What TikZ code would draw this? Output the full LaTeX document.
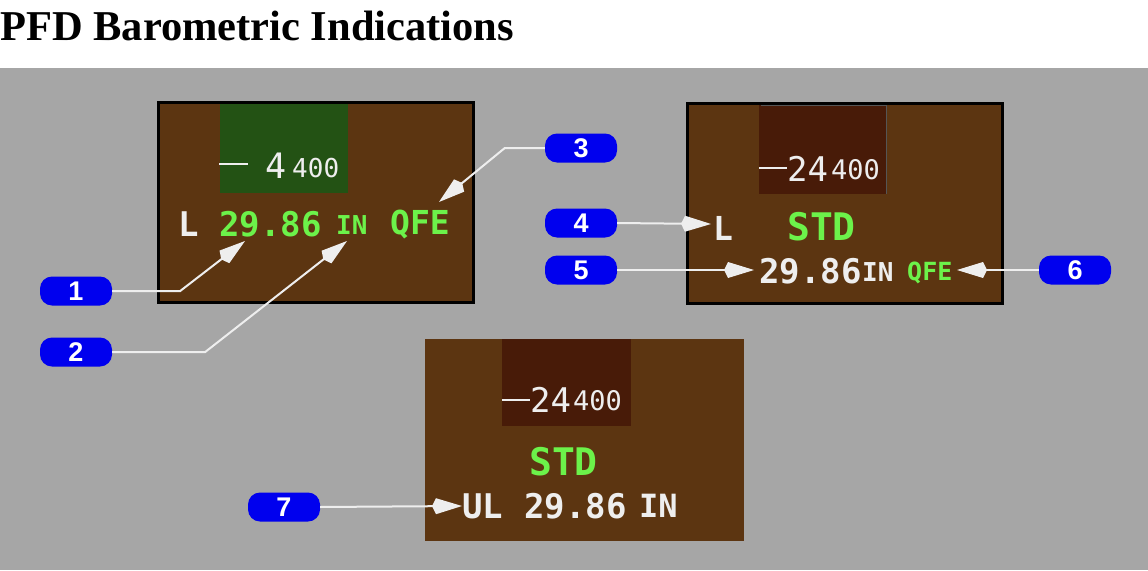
\documentclass[tikz,border=0pt]{standalone}
\usepackage{fontspec}
\setmainfont{Liberation Serif}
\newfontfamily\pfdfont{DejaVu Sans Mono}
\newfontfamily\tagfont{Liberation Sans}
\usetikzlibrary{arrows.meta}
\definecolor{bggray}{HTML}{A6A6A6}
\definecolor{pfdbrown}{HTML}{5C3511}
\definecolor{altgreen}{HTML}{235214}
\definecolor{altdark}{HTML}{481B08}
\definecolor{pfdgreen}{HTML}{6CF24A}
\definecolor{pfdwhite}{HTML}{EEEEEE}
\definecolor{tagblue}{HTML}{0000EE}
\definecolor{edgegray}{HTML}{555555}
\newcommand\fs[1]{\fontsize{#1}{#1}\selectfont}

\begin{document}
\begin{tikzpicture}[
  x=1pt, y=-1pt,
  tag/.style={fill=tagblue,rounded corners=12pt,minimum width=72pt,minimum height=29pt,inner sep=0pt,text=white,font=\tagfont\bfseries\fs{27}},
  txt/.style={anchor=base west,inner sep=0pt,font=\pfdfont\bfseries\fs{#1}},
  wt/.style={txt=#1,text=pfdwhite},
  gt/.style={txt=#1,text=pfdgreen},
  alt/.style={anchor=base west,inner sep=0pt,text=pfdwhite,font=\pfdfont\fs{#1}},
  callout/.style={draw=pfdwhite,line width=2pt,-{Kite[length=30pt,width=16pt,inset=4pt]}},
  bug/.style={draw=pfdwhite,line width=2pt}
]
\useasboundingbox (0,0) rectangle (1148,570);
\fill[white] (0,0) rectangle (1148,68);
\fill[bggray] (0,68) rectangle (1148,570);
\node[anchor=base west,inner sep=0pt,font=\bfseries\fs{42.5}] (title) at (0,40) {PFD Barometric Indications};

% ---- panel 1: QFE set ----
\filldraw[fill=pfdbrown,draw=black,line width=2.5pt] (158.5,102.5) rectangle (473.5,302.5);
\fill[altgreen] (220,104) rectangle (348,193);
\draw[bug] (219,164) -- (248,164);
\node[alt=35] (alt1) at (265,178) {4};
\node[alt=26] (alth1) at (292,177) {400};
\node[wt=34] (side1) at (178,236) {L};
\node[gt=34] (baro1) at (219,236) {29.86};
\node[gt=26] (unit1) at (336,234) {IN};
\node[gt=33] (ref1) at (390,234) {QFE};

% ---- panel 2: STD with preselection ----
\filldraw[fill=pfdbrown,draw=black,line width=2.5pt] (687.5,103.5) rectangle (1002.5,303.5);
\fill[altdark] (759,105) rectangle (887,194);
\draw[edgegray,line width=1pt] (761,105.5) -- (886.5,105.5) -- (886.5,194);
\draw[bug] (759,168) -- (787,168);
\node[alt=34] (alt2) at (787,181) {24};
\node[alt=27] (alth2) at (831,179) {400};
\node[wt=33] (side2) at (713,240) {L};
\node[gt=38] (std2) at (787,240) {STD};
\node[wt=34] (baro2) at (759,283) {29.86};
\node[wt=26] (unit2) at (862,281) {IN};
\node[gt=25] (ref2) at (907,280) {QFE};

% ---- panel 3: STD unlinked ----
\fill[pfdbrown] (425,339) rectangle (744,541);
\fill[altdark] (502,339) rectangle (631,426);
\draw[bug] (502,400) -- (530,400);
\node[alt=34] (alt3) at (530,412) {24};
\node[alt=27] (alth3) at (573,410) {400};
\node[gt=38] (std3) at (529,475) {STD};
\node[wt=34] (side3) at (462,518) {UL};
\node[wt=34] (baro3) at (524,518) {29.86};
\node[wt=32] (unit3) at (639,517) {IN};

% ---- callouts ----
\node[tag] (b1) at (76,291) {1};
\node[tag] (b2) at (76,352) {2};
\node[tag] (b3) at (581,148) {3};
\node[tag] (b4) at (581,223) {4};
\node[tag] (b5) at (581,270) {5};
\node[tag] (b6) at (1075,270) {6};
\node[tag] (b7) at (284,507) {7};
\coordinate (t1) at (245,241);
\coordinate (t2) at (347,241);
\coordinate (t3) at (439,202);
\coordinate (t4) at (711,224);
\coordinate (t5) at (754,270);
\coordinate (t6) at (957,270);
\coordinate (t7) at (462,506);
\draw[callout] (b1.east) -- ++(68,0) -- (t1);
\draw[callout] (b2.east) -- ++(93,0) -- (t2);
\draw[callout] (b3.west) -- ++(-40,0) -- (t3);
\draw[callout] (b4.east) -- (t4);
\draw[callout] (b5.east) -- (t5);
\draw[callout] (b6.west) -- (t6);
\draw[callout] (b7.east) -- (t7);
\end{tikzpicture}
\end{document}
